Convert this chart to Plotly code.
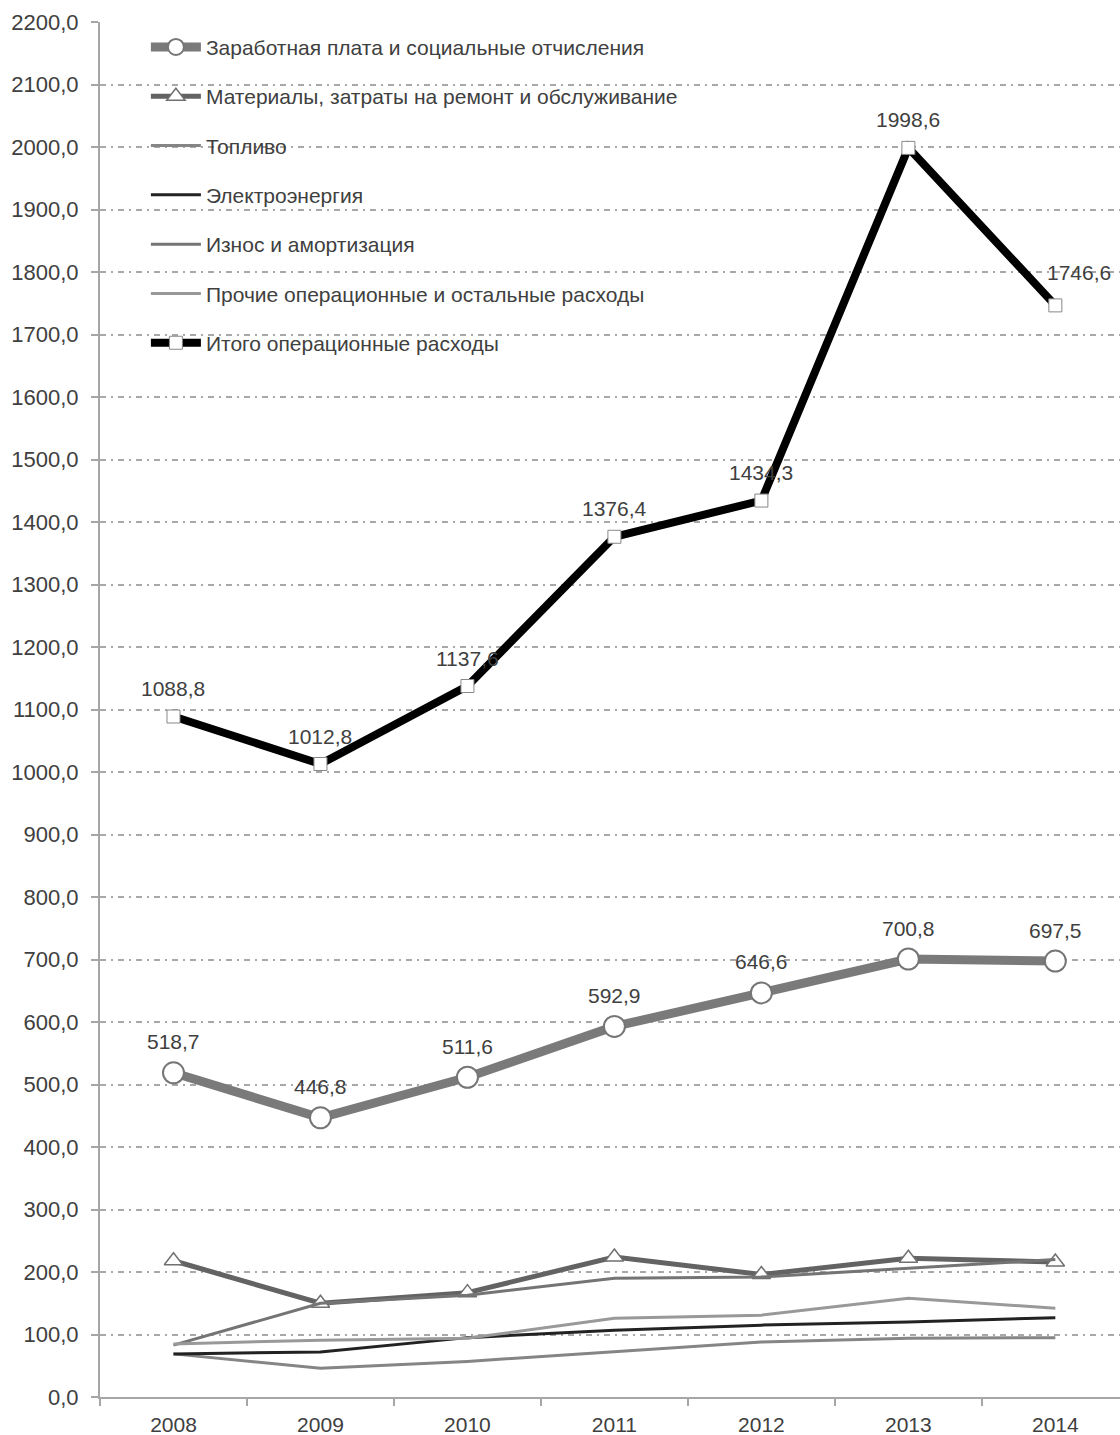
import plotly.graph_objects as go

years = ["2008", "2009", "2010", "2011", "2012", "2013", "2014"]

wages = [518.7, 446.8, 511.6, 592.9, 646.6, 700.8, 697.5]
materials = [218, 150, 167, 224, 196, 222, 216]
fuel = [69, 46, 57, 72, 88, 94, 95]
electricity = [69, 72, 95, 107, 115, 120, 127]
depreciation = [83, 150, 163, 190, 192, 206, 220]
other = [85, 91, 94, 126, 131, 158, 142]
total = [1088.8, 1012.8, 1137.6, 1376.4, 1434.3, 1998.6, 1746.6]

names = [
    "Заработная плата и социальные отчисления",
    "Материалы, затраты на ремонт и обслуживание",
    "Топливо",
    "Электроэнергия",
    "Износ и амортизация",
    "Прочие операционные и остальные расходы",
    "Итого операционные расходы",
]

def fmt(v):
    return f"{v:.1f}".replace(".", ",")

FONT = "Liberation Sans, Arial, sans-serif"
TXT = "#404040"

fig = go.Figure()

fig.add_trace(go.Scatter(
    x=years, y=wages, name=names[0], legendgroup="g0", mode="lines+markers",
    line=dict(color="#7a7a7a", width=9),
    marker=dict(symbol="circle", size=21, color="white", line=dict(color="#767676", width=2)),
))
fig.add_trace(go.Scatter(
    x=years, y=materials, name=names[1], legendgroup="g1", mode="lines+markers",
    line=dict(color="#636363", width=5),
    marker=dict(symbol="triangle-up", size=16, color="white", line=dict(color="#707070", width=1.5)),
))
fig.add_trace(go.Scatter(
    x=years, y=fuel, name=names[2], legendgroup="g2", mode="lines",
    line=dict(color="#858585", width=3),
))
fig.add_trace(go.Scatter(
    x=years, y=electricity, name=names[3], legendgroup="g3", mode="lines",
    line=dict(color="#222222", width=3),
))
fig.add_trace(go.Scatter(
    x=years, y=depreciation, name=names[4], legendgroup="g4", mode="lines",
    line=dict(color="#747474", width=3),
))
fig.add_trace(go.Scatter(
    x=years, y=other, name=names[5], legendgroup="g5", mode="lines",
    line=dict(color="#999999", width=3),
))
fig.add_trace(go.Scatter(
    x=years, y=total, name=names[6], legendgroup="g6", mode="lines+markers",
    line=dict(color="#000000", width=8),
    marker=dict(symbol="square", size=13, color="white", line=dict(color="#888888", width=1)),
))

# data labels (x given as category index)
for i, v in enumerate(wages):
    fig.add_annotation(x=i, y=v, text=fmt(v), showarrow=False, yshift=31,
                       font=dict(family=FONT, size=21, color=TXT))
for i, v in enumerate(total):
    last = i == len(total) - 1
    fig.add_annotation(x=i, y=v, text=fmt(v), showarrow=False,
                       yshift=33 if last else 28, xshift=24 if last else 0,
                       font=dict(family=FONT, size=21, color=TXT))

fig.update_layout(
    width=1120, height=1435,
    margin=dict(l=100, r=0, t=22, b=38),
    paper_bgcolor="white", plot_bgcolor="white",
    separators=", ",
    font=dict(family=FONT, size=21, color=TXT),
    showlegend=True,
    legend=dict(
        x=0.045, y=0.9965, xanchor="left", yanchor="top",
        bgcolor="rgba(0,0,0,0)", itemwidth=50, tracegroupgap=19,
        font=dict(family=FONT, size=21, color=TXT),
        traceorder="grouped",
    ),
)

fig.update_xaxes(
    type="category", range=[-0.5, 6.44],
    showgrid=False, zeroline=False,
    showline=True, linecolor="#a6a6a6", linewidth=2,
    ticks="outside", tickson="boundaries", ticklen=7, tickcolor="#a6a6a6", tickwidth=1.5,
    ticklabelstandoff=8,
    tickfont=dict(family=FONT, size=21, color=TXT),
)
fig.update_yaxes(
    range=[0, 2200], dtick=100, tickformat=".1f",
    showgrid=True, gridcolor="#a8a8a8", gridwidth=1.5, griddash="6px,5px,2px,5px",
    zeroline=False,
    showline=True, linecolor="#a6a6a6", linewidth=2,
    ticks="outside", ticklen=7, tickcolor="#a6a6a6", tickwidth=1.5,
    ticklabelstandoff=8,
    tickfont=dict(family=FONT, size=22, color=TXT),
)

fig.write_html(
    "out.html",
    config={"displayModeBar": False},
    post_script="document.body.style.margin='0';document.documentElement.style.overflow='hidden';",
)
